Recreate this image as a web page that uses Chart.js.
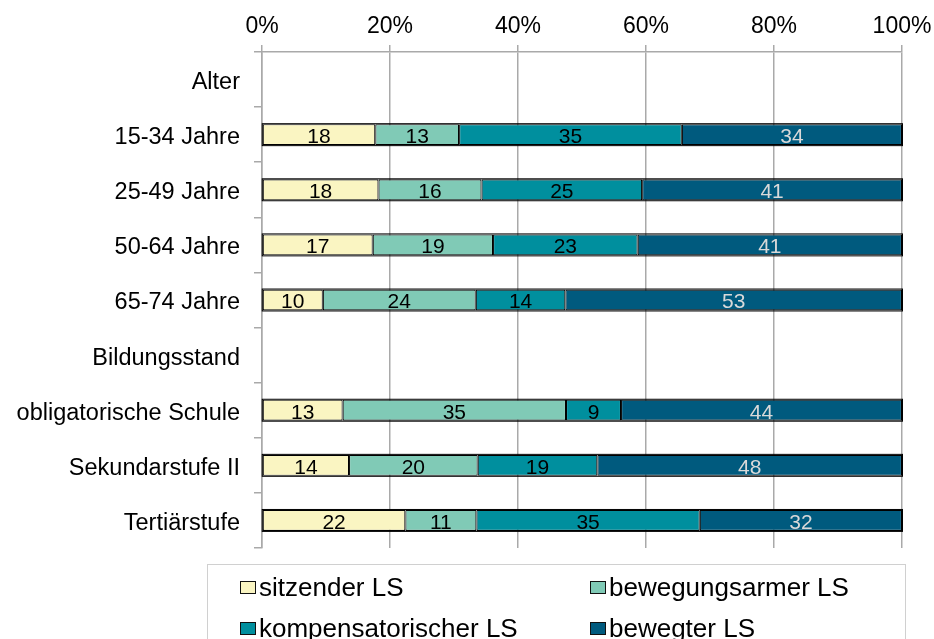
<!DOCTYPE html>
<html>
<head>
<meta charset="utf-8">
<script src="https://cdn.jsdelivr.net/npm/chart.js@4"></script>
<style>
  html, body { margin: 0; padding: 0; background: #fff; }
  #wrap { position: relative; width: 934px; height: 639px; overflow: hidden; }
  #legend {
    position: absolute; left: 207px; top: 564px; width: 699px; height: 100px;
    border: 1.5px solid #d0d0d0; box-sizing: border-box;
    font-family: 'Liberation Sans', Arial, sans-serif; font-size: 26px; color: #000;
  }
  .item { position: absolute; display: flex; align-items: center; height: 30px; white-space: nowrap; }
  .mark { width: 16px; height: 13px; box-sizing: border-box; border: 1.5px solid #111; margin-right: 3px; }
</style>
</head>
<body>
<div id="wrap">
  <canvas id="chart" width="934" height="639"></canvas>
  <div id="legend"></div>
</div>
<script>
const categories = ['Alter', '15-34 Jahre', '25-49 Jahre', '50-64 Jahre', '65-74 Jahre',
  'Bildungsstand', 'obligatorische Schule', 'Sekundarstufe II', 'Tertiärstufe'];
const seriesNames = ['sitzender LS', 'bewegungsarmer LS', 'kompensatorischer LS', 'bewegter LS'];

// shares in % (labels are the rounded values)
const sitzender = [null, 17.7, 18.2, 17.3, 9.5, null, 12.6, 13.6, 22.4];
const bewegungsarm = [null, 13.1, 16.1, 18.8, 23.9, null, 34.9, 20.1, 11.1];
const kompensatorisch = [null, 34.8, 25.1, 22.6, 14.0, null, 8.6, 18.7, 34.9];
const bewegt = [null, 34.4, 40.6, 41.3, 52.6, null, 43.9, 47.6, 31.6];

const xTicks = [0, 20, 40, 60, 80, 100];

const colors = ['#faf5c2', '#80cab6', '#008f9e', '#005a7e'];
const labelColors = ['#000', '#000', '#000', '#d9d9d9'];

const FONT = "'Liberation Sans', Arial, sans-serif";
Chart.defaults.font.family = FONT;

// outline round each whole stacked bar + the value labels
const valueLabels = {
  id: 'valueLabels',
  afterDatasetsDraw(chart) {
    const ctx = chart.ctx;
    const n = chart.data.datasets.length;
    ctx.save();
    ctx.strokeStyle = '#000';
    ctx.lineWidth = 1;
    chart.data.labels.forEach((_, j) => {
      const first = chart.getDatasetMeta(0).data[j];
      const last = chart.getDatasetMeta(n - 1).data[j];
      if (chart.data.datasets[0].data[j] == null) return;
      const h = first.height;
      ctx.strokeRect(first.base - 0.5, first.y - h / 2 - 0.5, last.x - first.base + 1, h + 1);
    });

    ctx.font = '21px ' + FONT;
    ctx.textAlign = 'center';
    ctx.textBaseline = 'middle';
    chart.data.datasets.forEach((ds, i) => {
      const meta = chart.getDatasetMeta(i);
      meta.data.forEach((bar, j) => {
        const v = ds.data[j];
        if (v == null) return;
        ctx.fillStyle = labelColors[i];
        ctx.fillText(String(Math.round(v)), (bar.x + bar.base) / 2, bar.y + 2.5);
      });
    });
    ctx.restore();
  }
};

const chart = new Chart(document.getElementById('chart'), {
  type: 'bar',
  data: {
    labels: categories,
    datasets: [sitzender, bewegungsarm, kompensatorisch, bewegt].map((d, i) => ({
      label: seriesNames[i],
      data: d,
      backgroundColor: colors[i],
      borderColor: '#000',
      borderWidth: 1.1,
      borderSkipped: false,
      barPercentage: 0.38,
      categoryPercentage: 1
    }))
  },
  options: {
    indexAxis: 'y',
    responsive: false,
    animation: false,
    layout: { padding: { left: 0, right: 32, top: 0, bottom: 91 } },
    plugins: { legend: { display: false }, tooltip: { enabled: false } },
    scales: {
      x: {
        position: 'top',
        stacked: true,
        min: 0,
        max: 100,
        afterBuildTicks: s => { s.ticks = xTicks.map(v => ({ value: v })); },
        afterFit: s => { s.height = 52; s.paddingLeft = 0; s.paddingRight = 0; },
        ticks: {
          callback: v => v + '%',
          color: '#000',
          font: { size: 23 },
          padding: 5,
          maxRotation: 0
        },
        grid: { color: '#a9a9a9', lineWidth: 1.5, tickLength: 7 },
        border: { display: true, color: '#a9a9a9', width: 1.5 }
      },
      y: {
        stacked: true,
        afterFit: s => { s.width = 262; },
        ticks: { color: '#000', font: { size: 23.5 }, padding: 14, labelOffset: 3 },
        grid: { offset: true, drawOnChartArea: false, color: '#a9a9a9', lineWidth: 1.5, tickLength: 8 },
        border: { display: true, color: '#a9a9a9', width: 1.5 }
      }
    }
  },
  plugins: [valueLabels]
});

// legend box: two columns, two rows
const legend = document.getElementById('legend');
chart.data.datasets.forEach((ds, i) => {
  const item = document.createElement('div');
  item.className = 'item';
  item.style.left = (32 + (i % 2) * 350) + 'px';
  item.style.top = (7 + Math.floor(i / 2) * 41) + 'px';
  const mark = document.createElement('span');
  mark.className = 'mark';
  mark.style.background = ds.backgroundColor;
  const text = document.createElement('span');
  text.textContent = ds.label;
  item.appendChild(mark);
  item.appendChild(text);
  legend.appendChild(item);
});
</script>
</body>
</html>
